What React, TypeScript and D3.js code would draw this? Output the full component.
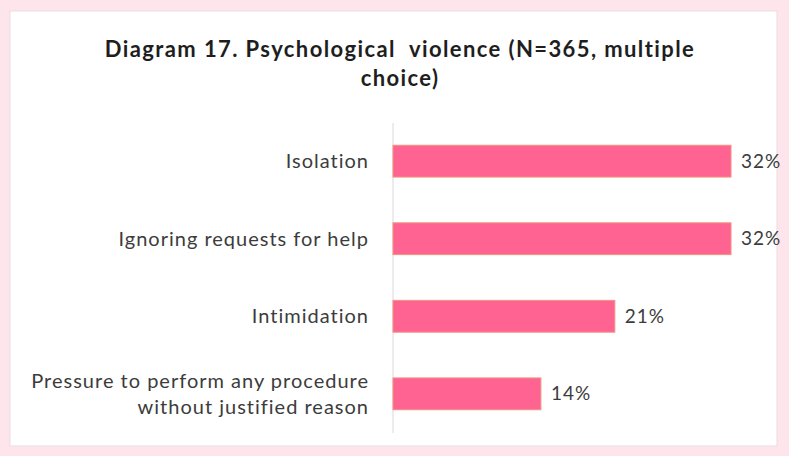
import React from "react";
import * as d3 from "d3";

const titleLines = ["Diagram 17. Psychological  violence (N=365, multiple", "choice)"];
const categories = [
  "Isolation",
  "Ignoring requests for help",
  "Intimidation",
  "Pressure to perform any procedure\nwithout justified reason",
];
const values = [32, 32, 21, 14];

const W = 789;
const H = 456;

export default function App() {
  const x = d3.scaleLinear().domain([0, 32]).range([393, 731]);
  const y = d3
    .scaleBand<string>()
    .domain(categories)
    .range([122, 433])
    .paddingInner(0.59)
    .paddingOuter(0.3);
  const font = "Lato, 'Open Sans', sans-serif";
  return (
    <svg
      width={W}
      height={H}
      style={{ position: "absolute", left: 0, top: 0, display: "block" }}
    >
      <rect x={0} y={0} width={W} height={H} fill="#fde5eb" />
      <rect x={10} y={11} width={767} height={435} fill="#ffffff" stroke="#eadde0" strokeWidth={1} />
      {titleLines.map((t, i) => (
        <text
          key={i}
          x={400}
          y={57 + i * 29}
          textAnchor="middle"
          fontFamily={font}
          fontWeight="bold"
          fontSize={22}
          letterSpacing={1.4}
          fill="#1e1e1e"
          style={{ whiteSpace: "pre" }}
        >
          {t}
        </text>
      ))}
      <line x1={x(0)} x2={x(0)} y1={123} y2={433} stroke="#d9d9d9" strokeWidth={1} />
      {categories.map((c, i) => {
        const yy = y(c)!;
        const bw = y.bandwidth();
        const lines = c.split("\n");
        const cy = yy + bw / 2;
        return (
          <g key={c}>
            <rect
              x={x(0)}
              y={yy}
              width={x(values[i]) - x(0)}
              height={bw}
              fill="#fe6392"
              stroke="#f2917f"
              strokeWidth={1}
            />
            {lines.map((l, j) => (
              <text
                key={j}
                x={369}
                y={cy + (j - (lines.length - 1) / 2) * 26}
                dy="0.35em"
                textAnchor="end"
                fontFamily={font}
                fontSize={20}
                letterSpacing={1}
                fill="#3c3c3c"
              >
                {l}
              </text>
            ))}
            <text
              x={x(values[i]) + 10}
              y={cy}
              dy="0.35em"
              textAnchor="start"
              fontFamily={font}
              fontSize={19}
              letterSpacing={1}
              fill="#3c3c3c"
            >
              {values[i]}%
            </text>
          </g>
        );
      })}
    </svg>
  );
}
